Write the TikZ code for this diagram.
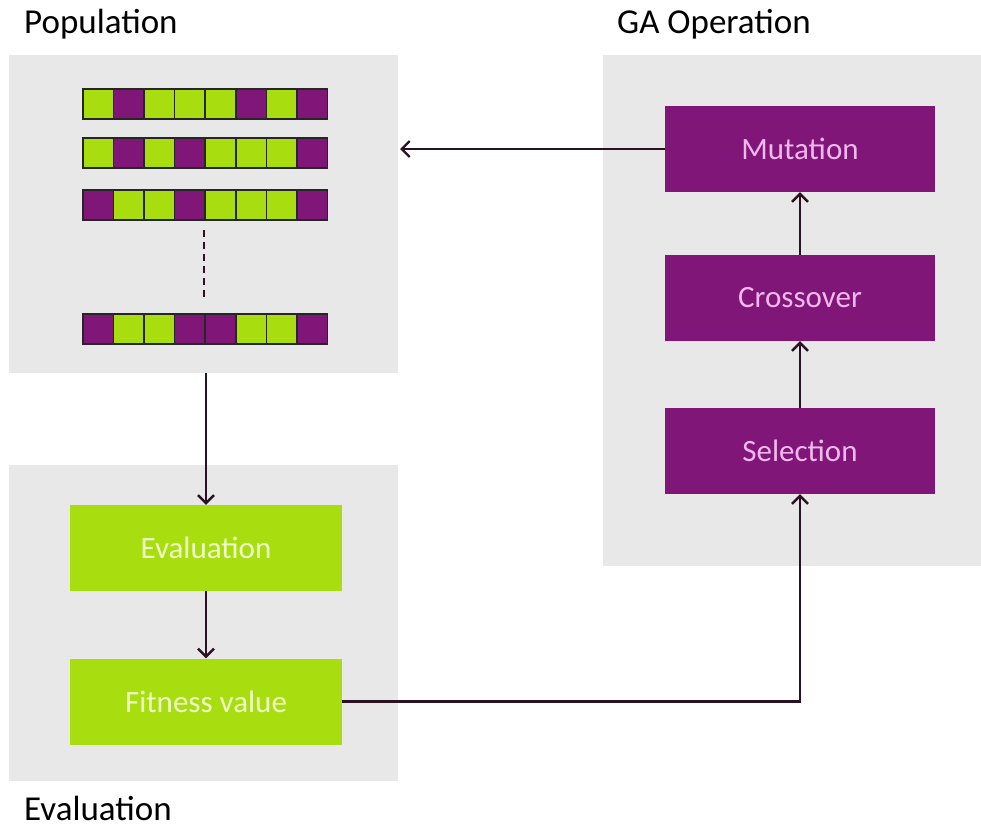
\documentclass[tikz,border=0pt]{standalone}
\usepackage{fontspec}
\setmainfont{Carlito}
\usetikzlibrary{arrows.meta}
\definecolor{panelgray}{HTML}{E8E8E8}
\definecolor{gapurple}{HTML}{801677}
\definecolor{gagreen}{HTML}{A8DE10}
\definecolor{arrowdark}{HTML}{2A1222}
\definecolor{purpletext}{HTML}{F2B8EE}
\definecolor{greentext}{HTML}{F0FFC8}
\tikzset{
  panel/.style={fill=panelgray, draw=none, anchor=north west, inner sep=0pt},
  title/.style={anchor=base west, font=\fontsize{35}{40}\selectfont, inner sep=0pt},
  opbox/.style={fill=gapurple, text=purpletext, minimum width=270pt, minimum height=86pt,
    inner sep=0pt, font=\fontsize{31}{36}\selectfont},
  evbox/.style={fill=gagreen, text=greentext, minimum width=272pt, minimum height=86pt,
    inner sep=0pt, font=\fontsize{31}{36}\selectfont},
  flow/.style={draw=arrowdark, line width=2.4pt,
    -{Straight Barb[length=8pt,width=16pt,line width=2.4pt]}},
  gene/.style={draw=black!85, line width=1.6pt, minimum width=30.6pt, minimum height=30pt,
    inner sep=0pt, anchor=north west},
}
\begin{document}
\begin{tikzpicture}[x=1pt,y=-1pt]
\useasboundingbox (0,0) rectangle (981,827);
% panels
\node[panel, minimum width=389pt, minimum height=318pt] (poppanel) at (9,55) {};
\node[panel, minimum width=389pt, minimum height=316pt] (evpanel) at (9,465) {};
\node[panel, minimum width=378pt, minimum height=511pt] (gapanel) at (603,55) {};
% titles
\node[title] (poptitle) at (24,33) {Population};
\node[title] (gatitle) at (617,33) {GA Operation};
\node[title] (evtitle) at (24,820) {Evaluation};
% chromosomes (p = purple gene, g = green gene)
\foreach \row/\y/\genes in {1/88/{g,p,g,g,g,p,g,p}, 2/137/{g,p,g,p,g,g,g,p},
                             3/189/{p,g,g,p,g,g,g,p}, 4/313/{p,g,g,p,p,g,g,p}} {
  \foreach \c [count=\i from 0] in \genes {
    \if p\c \def\gcol{gapurple}\else \def\gcol{gagreen}\fi
    \node[gene, fill=\gcol] (gene-\row-\i) at ({82+30.6*\i},\y) {};
  }
}
\coordinate (dotstart) at (204,230);
\coordinate (dotend) at (204,300);
\draw[arrowdark, line width=2.4pt, dash pattern=on 7pt off 5pt] (dotstart) -- (dotend);
% GA operation boxes
\node[opbox] (mutation) at (800,149) {Mutation};
\node[opbox] (crossover) at (800,298) {Crossover};
\node[opbox] (selection) at (800,451) {Selection};
% evaluation boxes
\node[evbox] (evaluation) at (206,548) {Evaluation};
\node[evbox] (fitness) at (206,701.5) {Fitness value};
% connectors
\coordinate (popin) at (400,149);
\draw[flow] (mutation.west) -- (popin);
\draw[flow] (poppanel.south -| evaluation.north) -- (evaluation.north);
\draw[flow] (evaluation.south) -- (fitness.north);
\draw[flow] (fitness.east) -| (selection.south);
\draw[flow] (selection.north) -- (crossover.south);
\draw[flow] (crossover.north) -- (mutation.south);
\end{tikzpicture}
\end{document}
